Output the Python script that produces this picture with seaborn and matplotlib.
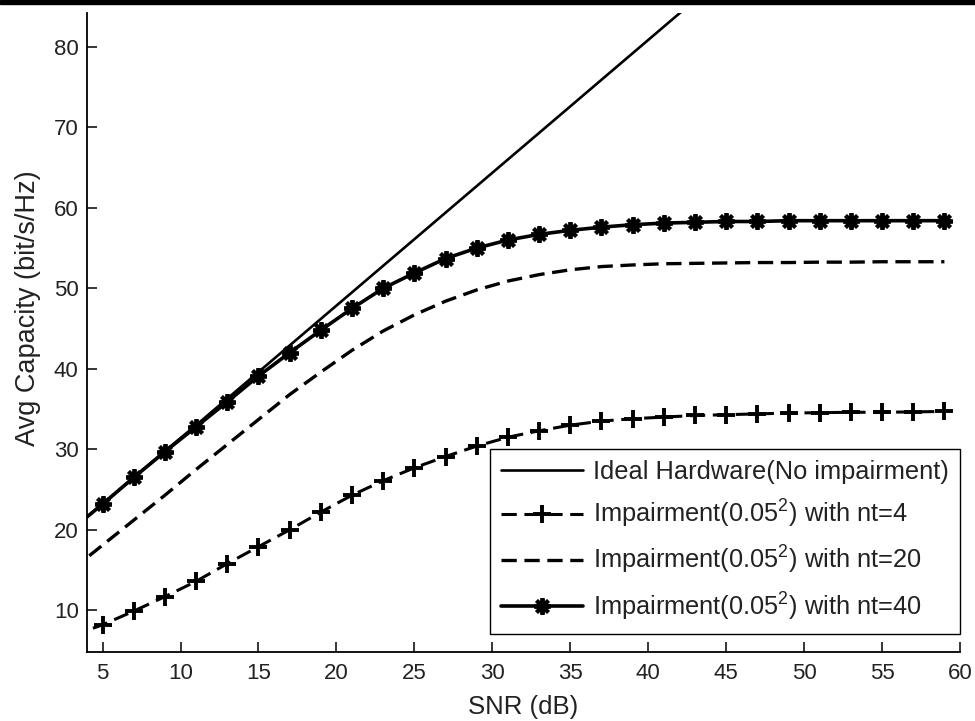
import matplotlib
matplotlib.use("Agg")
import matplotlib.pyplot as plt
from matplotlib.patches import Rectangle
import seaborn as sns
import pandas as pd

# SNR grid (dB) and average capacity curves (bit/s/Hz)
snr_db = [3, 5, 7, 9, 11, 13, 15, 17, 19, 21, 23, 25, 27, 29, 31,
          33, 35, 37, 39, 41, 43, 45, 47, 49, 51, 53, 55, 57, 59]

cap_ideal = [20.0, 23.2, 26.5, 29.8, 33.0, 36.3, 39.6, 42.9, 46.2, 49.5,
             52.8, 56.1, 59.4, 62.7, 66.0, 69.3, 72.6, 75.9, 79.2, 82.5,
             85.8, 89.1, 92.4, 95.7, 99.0, 102.3, 105.6, 108.9, 112.2]

cap_nt4 = [6.8, 8.2, 9.9, 11.7, 13.6, 15.8, 17.9, 20.0, 22.2, 24.3,
           26.1, 27.7, 29.1, 30.4, 31.5, 32.3, 33.0, 33.5, 33.8, 34.0,
           34.2, 34.3, 34.4, 34.5, 34.55, 34.6, 34.6, 34.65, 34.7]

cap_nt20 = [15.0, 18.1, 21.2, 24.3, 27.5, 30.6, 33.7, 36.8, 39.6, 42.3,
            44.7, 46.7, 48.4, 49.8, 50.9, 51.7, 52.3, 52.7, 52.9, 53.05,
            53.1, 53.15, 53.2, 53.2, 53.25, 53.25, 53.3, 53.3, 53.3]

cap_nt40 = [20.0, 23.2, 26.5, 29.7, 32.8, 35.9, 39.1, 42.0, 44.8, 47.5,
            50.0, 51.9, 53.7, 55.0, 56.0, 56.7, 57.2, 57.6, 57.9, 58.1,
            58.2, 58.3, 58.3, 58.4, 58.4, 58.4, 58.4, 58.4, 58.4]

series_labels = [
    "Ideal Hardware(No impairment)",
    r"Impairment(0.05$^{\mathrm{2}}$) with nt=4",
    r"Impairment(0.05$^{\mathrm{2}}$) with nt=20",
    r"Impairment(0.05$^{\mathrm{2}}$) with nt=40",
]

x_ticks = [5, 10, 15, 20, 25, 30, 35, 40, 45, 50, 55, 60]
y_ticks = [10, 20, 30, 40, 50, 60, 70, 80]

sns.set_theme(style="white")
plt.rcParams["font.family"] = ["Liberation Sans", "DejaVu Sans"]
plt.rcParams["mathtext.fontset"] = "custom"
plt.rcParams["mathtext.rm"] = "Liberation Sans"
plt.rcParams["lines.scale_dashes"] = False

df = pd.DataFrame({"snr": snr_db, "ideal": cap_ideal, "nt4": cap_nt4,
                   "nt20": cap_nt20, "nt40": cap_nt40})

fig = plt.figure(figsize=(9.75, 7.21), dpi=100)
ax = fig.add_axes([87 / 975, 1 - 652 / 721, (960 - 87) / 975, (652 - 13) / 721])

dash = (0, (11, 5.5))
sns.lineplot(data=df, x="snr", y="ideal", ax=ax, color="black", lw=1.9,
             label=series_labels[0])
sns.lineplot(data=df, x="snr", y="nt4", ax=ax, color="black", lw=2.2,
             linestyle=dash, marker="+", markersize=13,
             markeredgewidth=2.8, markeredgecolor="black",
             label=series_labels[1])
sns.lineplot(data=df, x="snr", y="nt20", ax=ax, color="black", lw=2.4,
             linestyle=dash, label=series_labels[2])
sns.lineplot(data=df, x="snr", y="nt40", ax=ax, color="black", lw=2.6,
             marker=(8, 2, 0), markersize=12, markeredgewidth=2.8,
             markeredgecolor="black", label=series_labels[3])

ax.set_xlim(4, 60)
ax.set_ylim(4.82, 84.2)
ax.set_xticks(x_ticks)
ax.set_yticks(y_ticks)
ax.set_xlabel("SNR (dB)", fontsize=18.5, labelpad=8, color="#222222")
ax.set_ylabel("Avg Capacity (bit/s/Hz)", fontsize=19.5, labelpad=9,
              color="#222222")
ax.yaxis.label.set_y(0.538)

for side in ("top", "right"):
    ax.spines[side].set_visible(False)
for side in ("left", "bottom"):
    ax.spines[side].set_color("black")
    ax.spines[side].set_linewidth(1.3)

ax.tick_params(axis="both", direction="in", length=7, width=1.1,
               color="black", labelsize=16, labelcolor="#222222",
               bottom=True, left=True, top=False, right=False)
ax.tick_params(axis="x", pad=8)
ax.tick_params(axis="y", pad=6)
ax.grid(False)

leg = ax.legend(loc="lower right", bbox_to_anchor=(1.0, 0.028),
                borderaxespad=0, fontsize=18.3, frameon=True, fancybox=False,
                framealpha=1, edgecolor="black", handlelength=3.2,
                handletextpad=0.4, borderpad=0.45, labelspacing=0.55)
leg.get_frame().set_linewidth(1.0)
for t in leg.get_texts():
    t.set_color("#222222")

# thin dark band along the upper edge of the canvas
fig.patches.append(Rectangle((0, 1 - 4 / 721), 1, 4 / 721,
                             transform=fig.transFigure, color="black",
                             zorder=10))

fig.savefig("out.png", dpi=100)
